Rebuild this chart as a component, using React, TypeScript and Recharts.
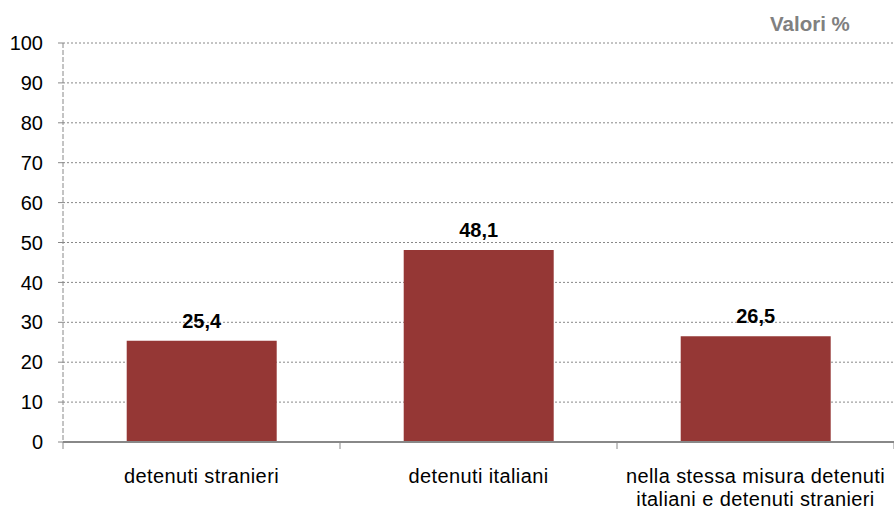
import { BarChart, Bar, XAxis, YAxis, CartesianGrid, LabelList } from "recharts";

const categories = ["detenuti stranieri", "detenuti italiani", "nella stessa misura detenuti|italiani e detenuti stranieri"];
const values = [25.4, 48.1, 26.5];
const yTicks = [0, 10, 20, 30, 40, 50, 60, 70, 80, 90, 100];

const data = categories.map((c, i) => ({ name: c, value: values[i] }));

const font = "Liberation Sans, Arial, sans-serif";

function CatTick(props: any) {
  const { x, y, payload, index } = props;
  const half = payload?.offset ?? 138.5;
  const lines = String(payload.value).split("|");
  return (
    <g>
      <line x1={x - half} y1={y - 14} x2={x - half} y2={y - 7} stroke="#888" strokeWidth={1} />
      {index === categories.length - 1 && (
        <line x1={x + half} y1={y - 14} x2={x + half} y2={y - 7} stroke="#888" strokeWidth={1} />
      )}
      <text x={x} y={y} textAnchor="middle" fontSize={20} letterSpacing={0.4} fontFamily={font} fill="#000">
        {lines.map((l, i) => (
          <tspan key={i} x={x} dy={i === 0 ? 27 : 23}>{l}</tspan>
        ))}
      </text>
    </g>
  );
}

export default function App() {
  return (
    <div style={{ position: "fixed", left: 0, top: 0, width: 894, height: 510, background: "#fff" }}>
      <div style={{ position: "absolute", left: 770, top: 12, fontFamily: font, fontWeight: "bold", fontSize: 20.5, color: "#808080" }}>
        Valori %
      </div>
      <BarChart width={894} height={510} data={data} margin={{ top: 43, right: 0, left: 0, bottom: 38 }} barCategoryGap="23%">
        <CartesianGrid vertical={false} stroke="#888" strokeDasharray="2 2" />
        <YAxis
          type="number"
          domain={[0, 100]}
          ticks={yTicks}
          interval={0}
          width={63}
          axisLine={{ stroke: "#888", strokeDasharray: "5 2" }}
          tickLine={{ stroke: "#888" }}
          tickSize={5}
          tickMargin={15}
          tick={{ fontSize: 20, fontFamily: font, fill: "#000" }}
        />
        <XAxis
          dataKey="name"
          interval={0}
          axisLine={{ stroke: "#888", strokeWidth: 2 }}
          tickLine={false}
          tickMargin={8}
          tick={<CatTick />}
        />
        <Bar dataKey="value" fill="#953735" isAnimationActive={false}>
          <LabelList
            dataKey="value"
            position="top"
            offset={13}
            formatter={(v: any) => String(v).replace(".", ",")}
            style={{ fontSize: 20, fontWeight: "bold", fontFamily: font, fill: "#000" }}
          />
        </Bar>
      </BarChart>
    </div>
  );
}
